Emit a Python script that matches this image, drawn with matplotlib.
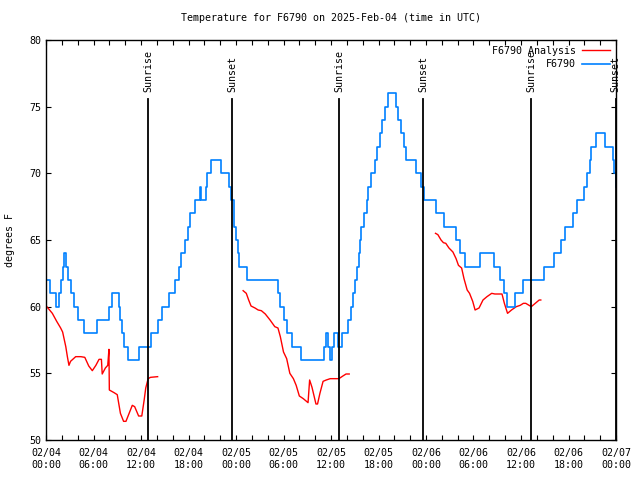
import numpy as np
import matplotlib
matplotlib.use("Agg")
import matplotlib.pyplot as plt
from matplotlib.ticker import MultipleLocator

# hours since 2025-02-04 00:00 UTC
blue_h = [0.1, 0.5, 1.3, 1.6, 1.9, 2.1, 2.3, 2.5, 2.8, 3.2, 3.5, 4.1, 4.8, 6.5,
          7.9, 8.3, 9.2, 9.4, 9.6, 9.8, 10.4, 11.7, 13.3, 14.1, 14.7, 15.5, 16.3,
          16.8, 17.1, 17.6, 17.9, 18.2, 18.8, 19.45, 19.6, 20.2, 20.3, 20.8, 22.1,
          23.1, 23.4, 23.7, 23.8, 24.0, 24.2, 24.4, 25.35, 29.3, 29.6, 30.0, 30.4,
          31.1, 32.2, 35.1, 35.4, 35.6, 35.9, 36.1, 36.4, 36.9, 37.4, 38.1, 38.5,
          38.8, 39.0, 39.25, 39.5, 39.7, 39.85, 40.2, 40.5, 40.7, 41.0, 41.5, 41.8,
          42.2, 42.5, 42.8, 43.2, 44.2, 44.5, 44.9, 45.2, 45.5, 46.7, 47.4, 47.7,
          49.2, 50.3, 51.8, 52.3, 52.9, 54.8, 56.6, 57.3, 57.8, 58.2, 59.2, 60.2,
          62.9, 64.2, 65.0, 65.6, 66.6, 67.1, 68.0, 68.3, 68.7, 68.9, 69.5, 70.6,
          71.65, 71.8, 71.95, 72.0]
blue_t = [62, 61, 60, 61, 62, 63, 64, 63, 62, 61, 60, 59, 58, 59,
          60, 61, 60, 59, 58, 57, 56, 57, 58, 59, 60, 61, 62,
          63, 64, 65, 66, 67, 68, 69, 68, 69, 70, 71, 70,
          69, 68, 67, 66, 65, 64, 63, 62, 61, 60, 59, 58,
          57, 56, 57, 58, 57, 56, 57, 58, 57, 58, 59, 60,
          61, 62, 63, 64, 65, 66, 67, 68, 69, 70, 71, 72,
          73, 74, 75, 76, 75, 74, 73, 72, 71, 70, 69, 68,
          67, 66, 65, 64, 63, 64, 63, 62, 61, 60, 61, 62,
          63, 64, 65, 66, 67, 68, 69, 70, 71, 72, 73, 72,
          71, 70, 69, 69]

red_h1 = [0.1, 0.8, 1.35, 1.85, 2.1, 2.5, 2.7, 2.9, 3.1, 3.75, 4.4, 4.9, 5.4,
          5.85, 6.3, 6.7, 7.0, 7.1, 7.5, 7.8, 7.95, 8.0, 8.6, 9.0, 9.4, 9.8,
          10.1, 10.5, 10.9, 11.2, 11.7, 12.1, 12.4, 12.6, 12.9, 13.2, 14.1]
red_t1 = [60.0, 59.5, 58.9, 58.4, 58.1, 57.0, 56.25, 55.6, 55.9, 56.25, 56.25,
          56.2, 55.55, 55.2, 55.6, 56.05, 56.05, 54.95, 55.4, 55.6, 56.8, 53.75,
          53.55, 53.4, 52.0, 51.4, 51.4, 52.0, 52.6, 52.5, 51.8, 51.8, 53.0,
          53.9, 54.6, 54.7, 54.75]
red_h2 = [24.9, 25.3, 25.6, 25.9, 26.4, 26.8, 27.2, 27.7, 28.3, 28.9, 29.3, 29.6,
          30.0, 30.4, 30.8, 31.25, 31.6, 32.0, 32.5, 33.1, 33.3, 33.6, 34.1,
          34.3, 34.6, 35.0, 35.4, 35.9, 37.0, 37.5, 37.9, 38.3]
red_t2 = [61.2, 61.0, 60.5, 60.05, 59.9, 59.75, 59.7, 59.45, 59.0, 58.5, 58.4,
          57.75, 56.6, 56.1, 55.0, 54.6, 54.1, 53.3, 53.1, 52.8, 54.5, 53.95,
          52.7, 52.7, 53.5, 54.4, 54.5, 54.6, 54.6, 54.8, 54.95, 54.95]
red_h3 = [49.2, 49.5, 49.9, 50.2, 50.5, 50.9, 51.4, 51.8, 52.1, 52.5, 52.8, 53.2,
          53.5, 53.9, 54.2, 54.7, 55.2, 55.7, 56.3, 56.7, 57.6, 57.9, 58.3, 58.8,
          59.4, 59.9, 60.3, 60.6, 61.3, 61.8, 62.3, 62.5]
red_t3 = [65.5, 65.4, 65.0, 64.8, 64.75, 64.4, 64.1, 63.6, 63.1, 62.9, 62.1, 61.25,
          61.0, 60.4, 59.75, 59.9, 60.5, 60.75, 61.0, 60.95, 60.95, 60.25, 59.5,
          59.75, 60.0, 60.1, 60.25, 60.25, 60.0, 60.25, 60.5, 60.5]

sunrise_h = [12.93, 37.05, 61.26]
sunset_h = [23.54, 47.66, 71.95]

xtick_h = list(range(0, 73, 6))
xtick_labels = ["02/04\n00:00", "02/04\n06:00", "02/04\n12:00", "02/04\n18:00",
                "02/05\n00:00", "02/05\n06:00", "02/05\n12:00", "02/05\n18:00",
                "02/06\n00:00", "02/06\n06:00", "02/06\n12:00", "02/06\n18:00",
                "02/07\n00:00"]

plt.rcParams['font.family'] = ['DejaVu Sans Mono']
plt.rcParams['font.size'] = 7.2

fig = plt.figure(figsize=(6.4, 4.8), dpi=100)
ax = fig.add_axes([46 / 640, 40 / 480, 570 / 640, 400 / 480])

ax.plot(red_h1, red_t1, color='#ff0000', lw=1, label='F6790 Analysis')
ax.plot(red_h2, red_t2, color='#ff0000', lw=1)
ax.plot(red_h3, red_t3, color='#ff0000', lw=1)
ax.step(blue_h, blue_t, where='post', color='#0080ff', lw=1.2, label='F6790')

for h in sunrise_h:
    ax.plot([h, h], [50, 75.55], color='k', lw=1.3)
    ax.text(h, 76.1, 'Sunrise', rotation=90, ha='center', va='bottom')
for h in sunset_h:
    ax.plot([h, h], [50, 75.55], color='k', lw=1.3)
    ax.text(h, 76.1, 'Sunset', rotation=90, ha='center', va='bottom')

ax.set_xlim(0, 72)
ax.set_ylim(50, 80)
ax.set_xticks(xtick_h)
ax.set_xticklabels(xtick_labels)
ax.xaxis.set_minor_locator(MultipleLocator(2))
ax.set_yticks(range(50, 81, 5))
ax.tick_params(which='both', direction='in', top=True, right=True, length=3.5, width=0.8)
ax.tick_params(axis='x', pad=6)
for s in ax.spines.values():
    s.set_linewidth(1)

ax.set_title('Temperature for F6790 on 2025-Feb-04 (time in UTC)', fontsize=7.2, pad=14)
ax.set_ylabel('degrees F')
ax.yaxis.set_label_coords(-0.054, 0.5)

ax.legend(loc='upper right', frameon=False, markerfirst=False, handlelength=2.8,
          borderaxespad=0.2, labelspacing=0.35, handletextpad=0.6,
          bbox_to_anchor=(1.0, 1.0))

fig.savefig('out.png', dpi=100)
